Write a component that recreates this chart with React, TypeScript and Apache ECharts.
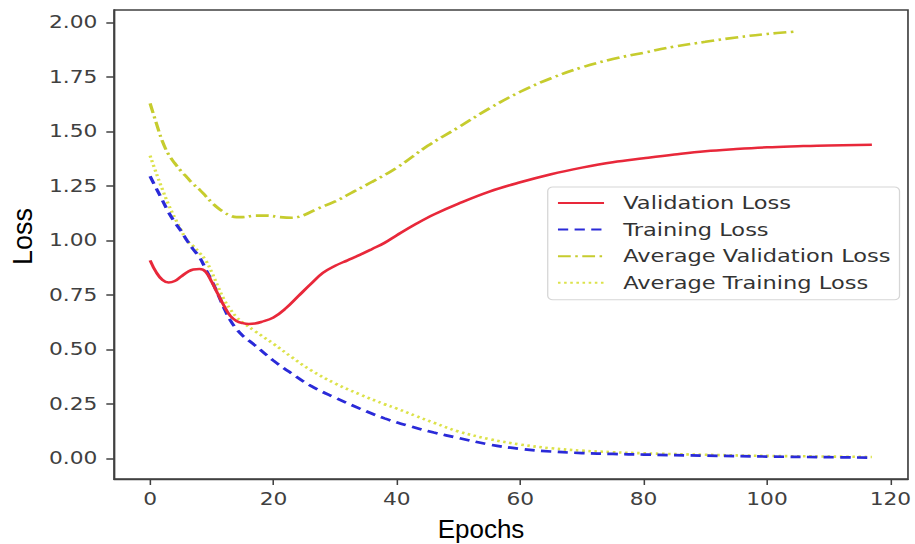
import React, { useEffect, useRef } from "react";
import * as echarts from "echarts";

// ---- data ----
const xTicks = [0, 20, 40, 60, 80, 100, 120];
const yTicks = [0, 0.25, 0.5, 0.75, 1.0, 1.25, 1.5, 1.75, 2.0];

const seriesNames = [
  "Validation Loss",
  "Training Loss",
  "Average Validation Loss",
  "Average Training Loss",
];

const valEpochs = [0, 1, 2, 3, 4, 5, 6, 7, 8, 9, 10, 11, 12, 13, 14, 15, 16, 17, 18, 20, 22, 24, 26, 28, 30, 32, 34, 36, 38, 40, 43, 46, 50, 55, 60, 65, 70, 75, 80, 85, 90, 95, 100, 105, 110, 117];
const valLoss = [0.91, 0.855, 0.82, 0.808, 0.815, 0.835, 0.855, 0.868, 0.87, 0.858, 0.81, 0.755, 0.7, 0.655, 0.632, 0.622, 0.618, 0.62, 0.627, 0.648, 0.69, 0.745, 0.8, 0.852, 0.885, 0.91, 0.935, 0.962, 0.99, 1.025, 1.075, 1.12, 1.17, 1.225, 1.268, 1.305, 1.335, 1.36, 1.378, 1.395, 1.41, 1.42, 1.428, 1.433, 1.437, 1.44];

const trainEpochs = [0, 1, 2, 3, 4, 5, 6, 7, 8, 9, 10, 11, 12, 13, 14, 15, 17, 20, 23, 26, 30, 34, 38, 42, 46, 50, 55, 60, 65, 70, 75, 80, 90, 100, 110, 117];
const trainLoss = [1.295, 1.24, 1.185, 1.13, 1.085, 1.045, 1.0, 0.96, 0.925, 0.87, 0.815, 0.755, 0.69, 0.635, 0.595, 0.565, 0.52, 0.45, 0.39, 0.335, 0.28, 0.23, 0.185, 0.15, 0.12, 0.095, 0.065, 0.045, 0.033, 0.026, 0.022, 0.019, 0.014, 0.01, 0.007, 0.005];

const avgValEpochs = [0, 1, 2, 3, 4, 5, 6, 7, 8, 9, 10, 11, 12, 13, 14, 15, 17, 19, 21, 23, 25, 27, 30, 33, 36, 40, 45, 50, 55, 60, 65, 70, 75, 80, 85, 90, 95, 100, 105];
const avgValLoss = [1.63, 1.54, 1.455, 1.395, 1.355, 1.32, 1.29, 1.26, 1.235, 1.205, 1.175, 1.15, 1.13, 1.115, 1.108, 1.108, 1.115, 1.115, 1.108, 1.105, 1.118, 1.145, 1.18, 1.225, 1.27, 1.335, 1.435, 1.52, 1.607, 1.683, 1.745, 1.795, 1.833, 1.862, 1.89, 1.912, 1.932, 1.948, 1.96];

const avgTrainEpochs = [0, 1, 2, 3, 4, 5, 6, 7, 8, 9, 10, 11, 12, 13, 14, 15, 17, 20, 23, 26, 30, 34, 38, 40, 43, 46, 50, 55, 60, 65, 70, 75, 80, 90, 100, 110, 117];
const avgTrainLoss = [1.39, 1.31, 1.235, 1.165, 1.105, 1.05, 1.0, 0.975, 0.945, 0.91, 0.855, 0.79, 0.73, 0.685, 0.65, 0.625, 0.585, 0.527, 0.465, 0.407, 0.345, 0.295, 0.25, 0.23, 0.197, 0.165, 0.125, 0.09, 0.065, 0.048, 0.037, 0.03, 0.025, 0.018, 0.013, 0.01, 0.008];

const zip = (xs: number[], ys: number[]) => xs.map((x, i) => [x, ys[i]]);

// ---- layout ----
const BASE_W = 715;
const BASE_H = 544;
const S = 915 / BASE_W; // horizontal stretch of the reference picture

export default function App() {
  const ref = useRef<HTMLDivElement>(null);

  useEffect(() => {
    if (!ref.current) return;
    const chart = echarts.init(ref.current, null, { renderer: "svg" });
    const tickColor = "#404040";
    const labelFont = "DejaVu Sans";
    const option: any = {
      animation: false,
      backgroundColor: "#fff",
      grid: {
        left: 114 / S,
        right: BASE_W - 910 / S,
        top: 10,
        bottom: BASE_H - 479,
        show: true,
        borderColor: tickColor,
        borderWidth: 1.3,
        backgroundColor: "transparent",
      },
      xAxis: {
        type: "value",
        min: -5.85,
        max: 122.85,
        axisLine: { show: true, onZero: false, lineStyle: { color: tickColor, width: 1.3 } },
        axisTick: { show: true, length: 6, customValues: xTicks, lineStyle: { color: tickColor, width: 1.2 } },
        axisLabel: {
          customValues: xTicks,
          margin: 12,
          fontFamily: labelFont,
          fontSize: 17,
          color: tickColor,
        },
        splitLine: { show: false },
      },
      yAxis: {
        type: "value",
        min: -0.093,
        max: 2.058,
        axisLine: { show: true, onZero: false, lineStyle: { color: tickColor, width: 1.3 } },
        axisTick: { show: true, length: 6, customValues: yTicks, lineStyle: { color: tickColor, width: 1.5 } },
        axisLabel: {
          customValues: yTicks,
          margin: 13,
          fontFamily: labelFont,
          fontSize: 17,
          color: tickColor,
          formatter: (v: number) => v.toFixed(2),
        },
        splitLine: { show: false },
      },
      legend: {
        orient: "vertical",
        left: 428,
        top: 187,
        padding: [7, 7, 8, 7],
        itemGap: 8.6,
        itemWidth: 36,
        itemHeight: 12,
        backgroundColor: "#fff",
        borderColor: "#d6d6d6",
        borderWidth: 1,
        borderRadius: 4,
        itemStyle: { opacity: 0, borderWidth: 0 },
        textStyle: { fontFamily: labelFont, fontSize: 17.6, color: "#333", padding: [0, 0, 0, 10] },
        data: seriesNames,
      },
      series: [
        {
          name: seriesNames[0],
          type: "line",
          data: zip(valEpochs, valLoss),
          symbol: "none",
          showSymbol: false,
          smooth: 0.4,
          lineStyle: { color: "#e8283a", width: 2.5 },
          itemStyle: { color: "#e8283a" },
          z: 4,
        },
        {
          name: seriesNames[1],
          type: "line",
          data: zip(trainEpochs, trainLoss),
          symbol: "none",
          showSymbol: false,
          smooth: 0.4,
          lineStyle: { color: "#2a2ad8", width: 2.7, type: [8, 5] },
          itemStyle: { color: "#2a2ad8" },
          z: 3,
        },
        {
          name: seriesNames[2],
          type: "line",
          data: zip(avgValEpochs, avgValLoss),
          symbol: "none",
          showSymbol: false,
          smooth: 0.4,
          lineStyle: { color: "#c6cc2e", width: 2.6, type: [10, 3.5, 2, 3.5] },
          itemStyle: { color: "#c6cc2e" },
          z: 2,
        },
        {
          name: seriesNames[3],
          type: "line",
          data: zip(avgTrainEpochs, avgTrainLoss),
          symbol: "none",
          showSymbol: false,
          smooth: 0.4,
          lineStyle: { color: "#dce24a", width: 2.6, type: [2, 2.8] },
          itemStyle: { color: "#dce24a" },
          z: 1,
        },
      ],
      graphic: [
        {
          type: "text",
          x: 22.6 / S,
          y: 236.5,
          rotation: Math.PI / 2,
          scaleY: 1 / S,
          style: {
            text: "Loss",
            fontFamily: "Liberation Sans",
            fontSize: 27,
            fill: "#000",
            textAlign: "center",
            textVerticalAlign: "middle",
            align: "center",
            verticalAlign: "middle",
          },
        },
        {
          type: "text",
          x: 481 / S,
          y: 529,
          scaleX: 1 / S,
          style: {
            text: "Epochs",
            fontFamily: "Liberation Sans",
            fontSize: 26,
            fill: "#000",
            textAlign: "center",
            textVerticalAlign: "middle",
            align: "center",
            verticalAlign: "middle",
          },
        },
      ],
    };
    chart.setOption(option);
    return () => chart.dispose();
  }, []);

  return (
    <div
      style={{
        position: "absolute",
        left: 0,
        top: 0,
        width: 915,
        height: 544,
        overflow: "hidden",
        background: "#fff",
      }}
    >
      <div
        ref={ref}
        style={{
          width: BASE_W,
          height: BASE_H,
          transform: `scaleX(${S})`,
          transformOrigin: "0 0",
        }}
      />
    </div>
  );
}
